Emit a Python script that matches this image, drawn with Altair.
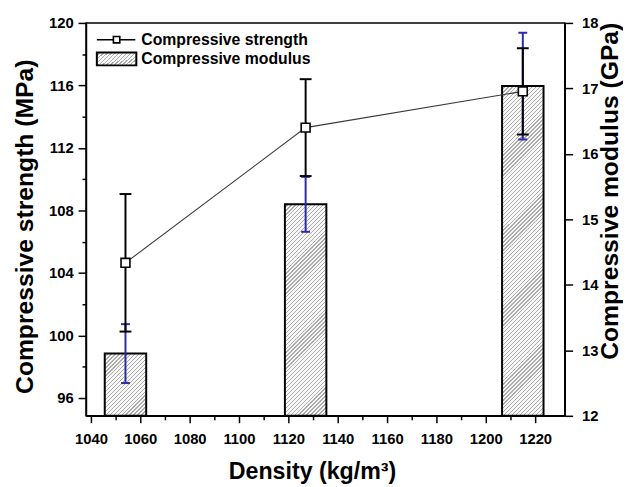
import altair as alt
import pandas as pd

# ---- data ----
density = [1054, 1127, 1215]
strength = [104.65, 113.3, 115.62]
strength_err = [4.4, 3.1, 2.76]
modulus = [12.95, 15.23, 17.035]
modulus_err = [0.45, 0.42, 0.815]

x_ticks = list(range(1040, 1221, 10))
left_ticks = list(range(96, 121, 2))
right_ticks = [12 + 0.5 * i for i in range(13)]

# ---- layout / style ----
W, H = 485, 398
X_DOM = [1040, 1230]
L_DOM = [94.86, 120]
R_DOM = [12, 18]
BAR_W = 42
FONT = "Liberation Sans"
BLUE = "#2b2ba8"

df = pd.DataFrame({
    "density": density,
    "strength": strength,
    "modulus": modulus,
})
df["s_lo"] = [v - e for v, e in zip(strength, strength_err)]
df["s_hi"] = [v + e for v, e in zip(strength, strength_err)]
df["m_lo"] = [v - e for v, e in zip(modulus, modulus_err)]
df["m_hi"] = [v + e for v, e in zip(modulus, modulus_err)]


def hatch(w, h, pitch=4.0, line=1.3, light="#f8f8f8", dark="#ababab"):
    """Diagonal (////) hatch as a striped linear gradient in bbox units."""
    total = w + h
    k = total / (w * w + h * h)
    stops = []
    c = 0.0
    while c < total - 1e-9:
        o1 = round(c / total, 5)
        o2 = round(min((c + pitch - line) / total, 1.0), 5)
        o3 = round(min((c + pitch) / total, 1.0), 5)
        stops += [
            {"offset": o1, "color": light},
            {"offset": o2, "color": light},
            {"offset": o2, "color": dark},
            {"offset": o3, "color": dark},
        ]
        c += pitch
    return {"gradient": "linear", "x1": 0, "y1": 0,
            "x2": round(k * w, 5), "y2": round(k * h, 5), "stops": stops}


def cond_tick(expr, major, minor):
    return {"condition": {"test": expr, "value": major}, "value": minor}


common_axis = dict(
    grid=False, domainColor="black", domainWidth=1.5, tickColor="black",
    tickWidth=1.5, labelFont=FONT, labelFontSize=15, labelFontWeight="bold",
    labelColor="black", titleFont=FONT, titleFontWeight="bold",
    titleColor="black", labelOverlap=False, labelFlush=False, format="d",
)

xaxis = alt.Axis(
    values=x_ticks,
    labelExpr="datum.value % 20 === 0 ? datum.label : ''",
    tickSize=cond_tick("datum.value % 20 === 0", 7, 4),
    labelPadding=9,
    title="Density (kg/m³)", titleFontSize=23.5, titleX=229, titleY=45,
    titleBaseline="top", titleAlign="center",
    **common_axis,
)

laxis = alt.Axis(
    orient="left", values=left_ticks,
    labelExpr="datum.value % 4 === 0 ? datum.label : ''",
    tickSize=cond_tick("datum.value % 4 === 0", 8, 4),
    labelPadding=5,
    title="Compressive strength (MPa)", titleFontSize=25, titleAngle=270,
    titleBaseline="alphabetic", titleAlign="center", titleX=-54, titleY=206,
    **common_axis,
)

raxis = alt.Axis(
    orient="right", values=right_ticks,
    labelExpr="datum.value % 1 === 0 ? datum.label : ''",
    tickSize=cond_tick("datum.value % 1 === 0", 8, 4),
    labelPadding=9,
    title="Compressive modulus (GPa)", titleFontSize=25, titleAngle=270,
    titleBaseline="alphabetic", titleAlign="center", titleX=53, titleY=170,
    **common_axis,
)

xs = alt.Scale(domain=X_DOM, nice=False, zero=False)
ls = alt.Scale(domain=L_DOM, nice=False, zero=False)
rs = alt.Scale(domain=R_DOM, nice=False, zero=False)

X = alt.X("density:Q", scale=xs, axis=xaxis)

# ---- modulus (right axis) group ----
mod_layers = []
for d, m in zip(density, modulus):
    h = (m - R_DOM[0]) / (R_DOM[1] - R_DOM[0]) * H
    mod_layers.append(
        alt.Chart(df).transform_filter(alt.datum.density == d)
        .mark_bar(size=BAR_W, fill=hatch(BAR_W, h), stroke="black",
                  strokeWidth=2, opacity=1)
        .encode(x=X, y=alt.Y("modulus:Q", scale=rs, axis=raxis),
                y2=alt.datum(R_DOM[0]))
    )

mod_err = alt.Chart(df).mark_rule(color=BLUE, strokeWidth=2).encode(
    x=X, y=alt.Y("m_lo:Q", scale=rs, axis=raxis), y2="m_hi:Q")
mod_cap_hi = alt.Chart(df).mark_tick(orient="horizontal", size=9, thickness=2,
                                     color=BLUE, opacity=1).encode(
    x=X, y=alt.Y("m_hi:Q", scale=rs, axis=raxis))
mod_cap_lo = alt.Chart(df).mark_tick(orient="horizontal", size=9, thickness=2,
                                     color=BLUE, opacity=1).encode(
    x=X, y=alt.Y("m_lo:Q", scale=rs, axis=raxis))

mod_group = alt.layer(*mod_layers, mod_err, mod_cap_hi, mod_cap_lo)

# ---- strength (left axis) group ----
line = alt.Chart(df).mark_line(color="#3a3a3a", strokeWidth=1.1).encode(
    x=X, y=alt.Y("strength:Q", scale=ls, axis=laxis))
s_err = alt.Chart(df).mark_rule(color="black", strokeWidth=2).encode(
    x=X, y=alt.Y("s_lo:Q", scale=ls, axis=laxis), y2="s_hi:Q")
s_cap_hi = alt.Chart(df).mark_tick(orient="horizontal", size=12, thickness=2,
                                   color="black", opacity=1).encode(
    x=X, y=alt.Y("s_hi:Q", scale=ls, axis=laxis))
s_cap_lo = alt.Chart(df).mark_tick(orient="horizontal", size=12, thickness=2,
                                   color="black", opacity=1).encode(
    x=X, y=alt.Y("s_lo:Q", scale=ls, axis=laxis))
pts = alt.Chart(df).mark_point(shape="square", size=81, filled=True,
                               fill="white", stroke="black", strokeWidth=1.6,
                               opacity=1).encode(
    x=X, y=alt.Y("strength:Q", scale=ls, axis=laxis))

# ---- legend (drawn inside the plot) ----
one = pd.DataFrame({"k": [0]})
leg_line = alt.Chart(one).mark_rule(color="black", strokeWidth=1.5).encode(
    x=alt.value(11), x2=alt.value(50), y=alt.value(17))
leg_pt = alt.Chart(one).mark_point(shape="square", size=42, filled=True,
                                   fill="white", stroke="black", strokeWidth=1.6,
                                   opacity=1).encode(
    x=alt.value(31), y=alt.value(17))
leg_rect = alt.Chart(one).mark_rect(fill=hatch(40, 14), stroke="black",
                                    strokeWidth=2).encode(
    x=alt.value(11), x2=alt.value(51), y=alt.value(30), y2=alt.value(43))
leg_t1 = alt.Chart(one).mark_text(text="Compressive strength", font=FONT,
                                  fontSize=16, fontWeight="bold", align="left",
                                  baseline="middle", color="black").encode(
    x=alt.value(56), y=alt.value(17))
leg_t2 = alt.Chart(one).mark_text(text="Compressive modulus", font=FONT,
                                  fontSize=16, fontWeight="bold", align="left",
                                  baseline="middle", color="black").encode(
    x=alt.value(56), y=alt.value(37))

str_group = alt.layer(line, s_err, s_cap_hi, s_cap_lo, pts,
                      leg_line, leg_pt, leg_rect, leg_t1, leg_t2)

chart = (
    alt.layer(mod_group, str_group)
    .resolve_scale(y="independent")
    .properties(
        width=W, height=H, autosize="none",
        padding={"left": 79, "top": 12, "right": 59, "bottom": 69},
        background="white",
    )
    .configure_view(stroke="black", strokeWidth=1.5)
)

chart.save("out.html", embed_options={"renderer": "svg", "actions": False})
